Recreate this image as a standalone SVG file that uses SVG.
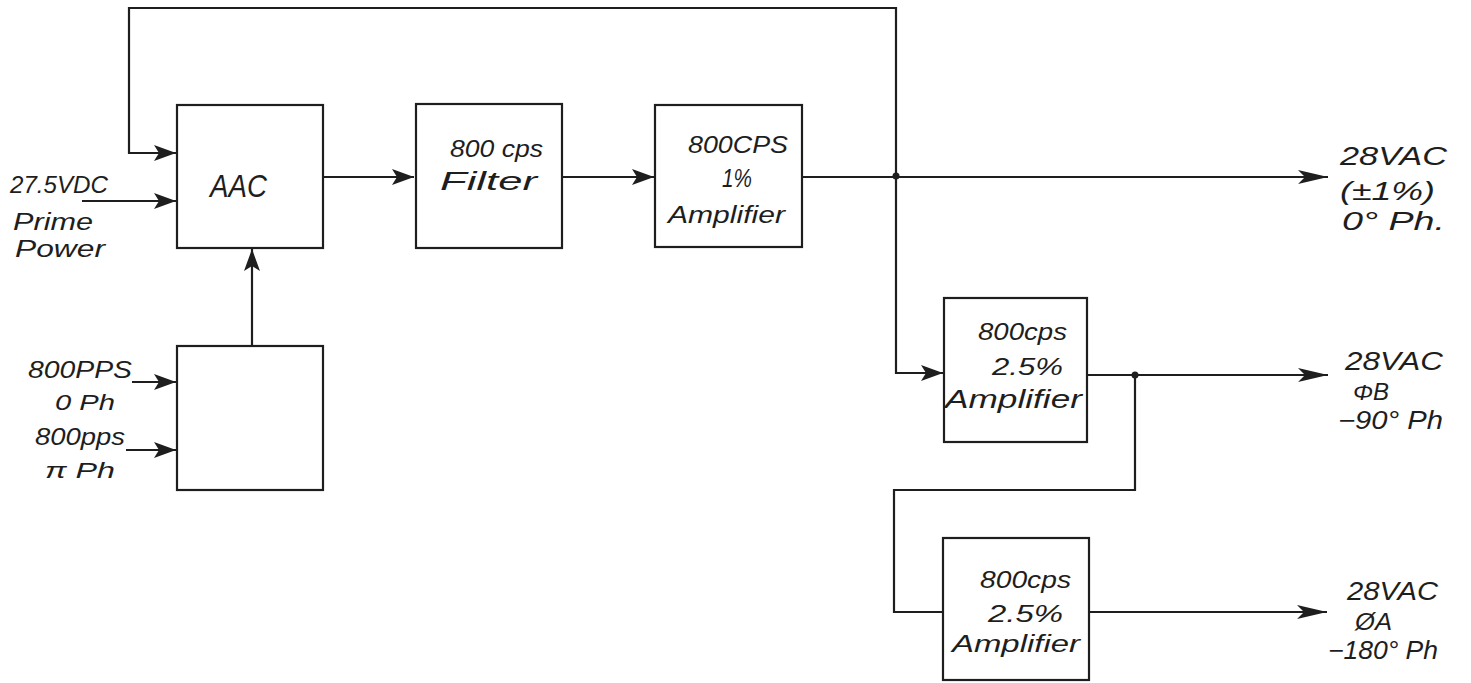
<svg xmlns="http://www.w3.org/2000/svg" width="1471" height="683" viewBox="0 0 1471 683">
<defs>
<marker id="ah" markerUnits="userSpaceOnUse" markerWidth="24" markerHeight="20" refX="22" refY="10" orient="auto">
<path d="M0,2 L22,10 L0,18 L5,10 Z" fill="#1e1e1e"/>
</marker>
<marker id="ahl" markerUnits="userSpaceOnUse" markerWidth="32" markerHeight="20" refX="30" refY="10" orient="auto">
<path d="M0,3 L30,10 L0,17 L7,10 Z" fill="#1e1e1e"/>
</marker>
</defs>
<style>
.box{fill:none;stroke:#1e1e1e;stroke-width:2.2}
.ln{fill:none;stroke:#1e1e1e;stroke-width:2.2}
text{font-family:"Liberation Sans",Arial,sans-serif;font-style:italic;fill:#1e1e1e;font-size:23px}
.o{font-size:25px}
.dot{fill:#1e1e1e}
</style>
<rect width="1471" height="683" fill="#ffffff"/>

<g id="connectors">
<path class="ln" d="M896,176 V8 H129 V153 H176" marker-end="url(#ah)"/>
<path class="ln" d="M82,201 H176" marker-end="url(#ah)"/>
<path class="ln" d="M323,177 H414" marker-end="url(#ah)"/>
<path class="ln" d="M562,177 H654" marker-end="url(#ah)"/>
<path class="ln" d="M802,177 H1328" marker-end="url(#ahl)"/>
<path class="ln" d="M896,176 V373 H943" marker-end="url(#ah)"/>
<path class="ln" d="M1087,375 H1328" marker-end="url(#ahl)"/>
<path class="ln" d="M1135,375 V490 H894 V612 H943"/>
<path class="ln" d="M1089,612 H1327" marker-end="url(#ahl)"/>
<path class="ln" d="M252,346 V249" marker-end="url(#ah)"/>
<path class="ln" d="M132,382 H176" marker-end="url(#ah)"/>
<path class="ln" d="M126,450 H176" marker-end="url(#ah)"/>
<circle class="dot" cx="896" cy="176" r="3.5"/>
<circle class="dot" cx="1135" cy="375" r="3.5"/>
</g>

<g id="aac">
<rect class="box" x="177" y="105" width="146" height="143"/>
<text x="210" y="197" style="font-size:32px" textLength="57" lengthAdjust="spacingAndGlyphs">AAC</text>
</g>

<g id="phase-box">
<rect class="box" x="177" y="346" width="146" height="144"/>
</g>

<g id="filter">
<rect class="box" x="416" y="104" width="146" height="144"/>
<text x="450" y="157" textLength="93" lengthAdjust="spacingAndGlyphs">800 cps</text>
<text x="440" y="190" style="font-size:25px" textLength="97" lengthAdjust="spacingAndGlyphs">Filter</text>
</g>

<g id="amp1">
<rect class="box" x="655" y="105" width="147" height="142"/>
<text x="688" y="153" textLength="100" lengthAdjust="spacingAndGlyphs">800CPS</text>
<text x="722" y="187" style="font-size:26px" textLength="30" lengthAdjust="spacingAndGlyphs">1%</text>
<text x="668" y="223" textLength="117" lengthAdjust="spacingAndGlyphs">Amplifier</text>
</g>

<g id="amp2">
<rect class="box" x="944" y="298" width="143" height="144"/>
<text x="978" y="340" textLength="89" lengthAdjust="spacingAndGlyphs">800cps</text>
<text x="992" y="375" textLength="71" lengthAdjust="spacingAndGlyphs">2.5%</text>
<text x="945" y="408" style="font-size:25px" textLength="137" lengthAdjust="spacingAndGlyphs">Amplifier</text>
</g>

<g id="amp3">
<rect class="box" x="943" y="538" width="146" height="142"/>
<text x="980" y="588" textLength="91" lengthAdjust="spacingAndGlyphs">800cps</text>
<text x="988" y="622" textLength="75" lengthAdjust="spacingAndGlyphs">2.5%</text>
<text x="952" y="652" textLength="128" lengthAdjust="spacingAndGlyphs">Amplifier</text>
</g>

<g id="in-power">
<text x="10" y="193" textLength="98" lengthAdjust="spacingAndGlyphs">27.5VDC</text>
<text x="13" y="230" textLength="80" lengthAdjust="spacingAndGlyphs">Prime</text>
<text x="15" y="257" textLength="90" lengthAdjust="spacingAndGlyphs">Power</text>
</g>

<g id="in-pps">
<text x="28" y="378" style="font-size:24px" textLength="104" lengthAdjust="spacingAndGlyphs">800PPS</text>
<text x="55" y="410" style="font-size:22px" textLength="60" lengthAdjust="spacingAndGlyphs">0 Ph</text>
<text x="35" y="445" style="font-size:24px" textLength="90" lengthAdjust="spacingAndGlyphs">800pps</text>
<text x="45" y="478" style="font-size:22px" textLength="70" lengthAdjust="spacingAndGlyphs">π Ph</text>
</g>

<g id="out1">
<text class="o" x="1340" y="165" textLength="107" lengthAdjust="spacingAndGlyphs">28VAC</text>
<text class="o" x="1340" y="200" textLength="95" lengthAdjust="spacingAndGlyphs">(±1%)</text>
<text class="o" x="1342" y="230" textLength="103" lengthAdjust="spacingAndGlyphs">0° Ph.</text>
</g>

<g id="out2">
<text class="o" x="1345" y="370" textLength="98" lengthAdjust="spacingAndGlyphs">28VAC</text>
<text x="1353" y="400" style="font-size:23px" textLength="36" lengthAdjust="spacingAndGlyphs">ΦB</text>
<text class="o" x="1338" y="429" textLength="105" lengthAdjust="spacingAndGlyphs">−90° Ph</text>
</g>

<g id="out3">
<text class="o" x="1347" y="600" textLength="91" lengthAdjust="spacingAndGlyphs">28VAC</text>
<text x="1355" y="630" style="font-size:23px" textLength="37" lengthAdjust="spacingAndGlyphs">ØA</text>
<text class="o" x="1328" y="659" textLength="110" lengthAdjust="spacingAndGlyphs">−180° Ph</text>
</g>
</svg>
